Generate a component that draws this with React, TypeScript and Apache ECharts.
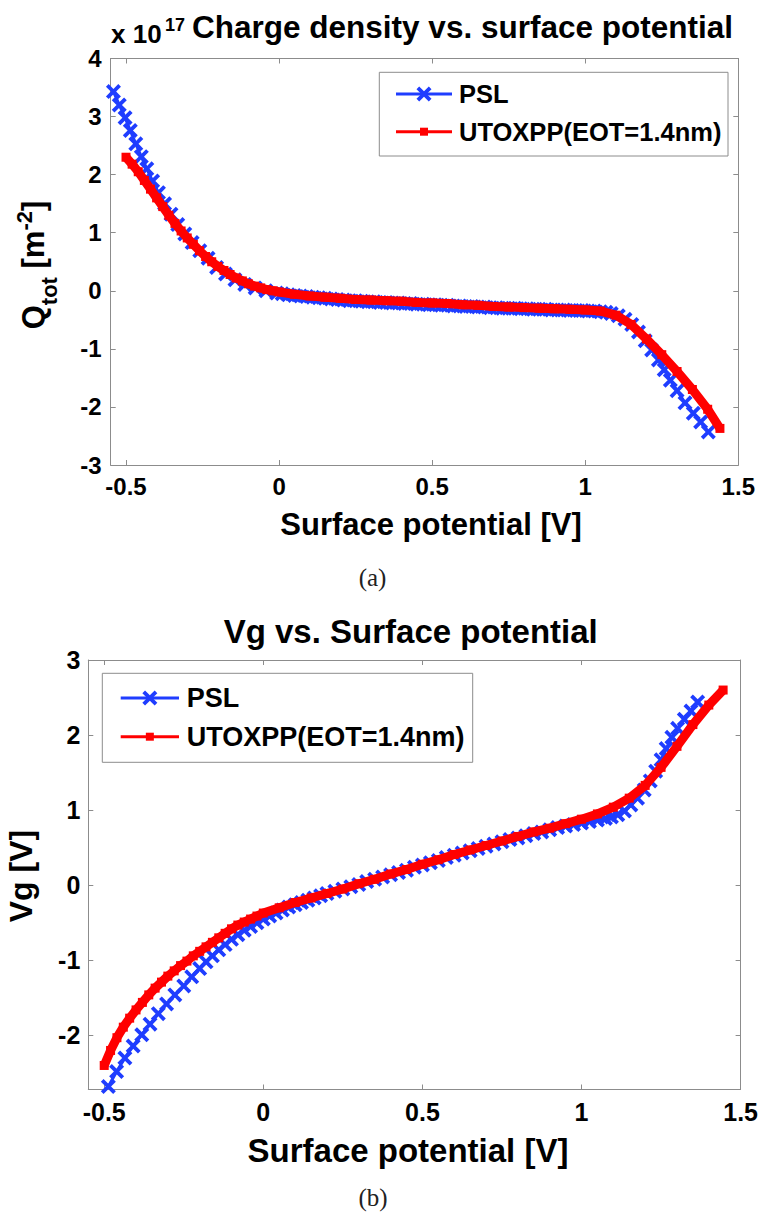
import React, { useEffect, useRef } from 'react';
import * as echarts from 'echarts';

// ---------- data ----------
const SERIES_NAMES = ['PSL', 'UTOXPP(EOT=1.4nm)'];
const X_TICKS = [-0.5, 0, 0.5, 1, 1.5];
const QA_Y_TICKS = [-3, -2, -1, 0, 1, 2, 3, 4];
const VG_Y_TICKS = [-2, -1, 0, 1, 2, 3];

// (a) charge density [1e17 m^-2] vs surface potential [V]
const qPslX = [-0.541, -0.522, -0.503, -0.486, -0.468, -0.45, -0.432, -0.413, -0.394, -0.374, -0.353, -0.331, -0.308, -0.284, -0.259, -0.232, -0.204, -0.175, -0.144, -0.112, -0.078, -0.043, -0.008, 0.01, 0.03, 0.05, 0.07, 0.09, 0.11, 0.13, 0.15, 0.17, 0.19, 0.21, 0.23, 0.25, 0.27, 0.29, 0.31, 0.33, 0.35, 0.37, 0.39, 0.41, 0.43, 0.45, 0.47, 0.49, 0.51, 0.53, 0.55, 0.57, 0.59, 0.61, 0.63, 0.65, 0.67, 0.69, 0.71, 0.73, 0.75, 0.77, 0.79, 0.81, 0.83, 0.85, 0.87, 0.89, 0.91, 0.93, 0.95, 0.97, 0.99, 1.01, 1.03, 1.05, 1.068, 1.085, 1.108, 1.13, 1.152, 1.174, 1.196, 1.217, 1.239, 1.258, 1.278, 1.3, 1.326, 1.353, 1.377, 1.402];
const qPslY = [3.43, 3.2, 2.98, 2.76, 2.53, 2.31, 2.1, 1.89, 1.69, 1.5, 1.32, 1.14, 0.98, 0.83, 0.69, 0.56, 0.4, 0.29, 0.19, 0.11, 0.05, 0.0, -0.04, -0.05, -0.07, -0.08, -0.09, -0.1, -0.11, -0.12, -0.13, -0.14, -0.15, -0.16, -0.17, -0.17, -0.18, -0.19, -0.19, -0.2, -0.2, -0.21, -0.21, -0.22, -0.22, -0.23, -0.23, -0.24, -0.24, -0.25, -0.25, -0.26, -0.26, -0.27, -0.27, -0.28, -0.28, -0.29, -0.29, -0.3, -0.3, -0.3, -0.31, -0.31, -0.32, -0.32, -0.32, -0.33, -0.33, -0.33, -0.34, -0.34, -0.34, -0.35, -0.35, -0.36, -0.37, -0.39, -0.43, -0.49, -0.58, -0.71, -0.86, -1.02, -1.19, -1.36, -1.54, -1.72, -1.93, -2.11, -2.26, -2.43];
const qUtoX = [-0.5, -0.48, -0.46, -0.44, -0.42, -0.4, -0.38, -0.36, -0.34, -0.32, -0.3, -0.28, -0.26, -0.24, -0.22, -0.2, -0.18, -0.16, -0.14, -0.12, -0.1, -0.08, -0.06, -0.04, -0.02, 0.0, 0.05, 0.1, 0.15, 0.2, 0.25, 0.3, 0.35, 0.4, 0.45, 0.5, 0.55, 0.6, 0.65, 0.7, 0.75, 0.8, 0.85, 0.9, 0.95, 1.0, 1.05, 1.1, 1.15, 1.2, 1.25, 1.3, 1.35, 1.4, 1.44];
const qUtoY = [2.3, 2.18, 2.05, 1.9, 1.75, 1.6, 1.45, 1.3, 1.16, 1.03, 0.91, 0.8, 0.69, 0.59, 0.5, 0.42, 0.35, 0.28, 0.22, 0.17, 0.12, 0.08, 0.05, 0.02, 0.0, -0.02, -0.06, -0.09, -0.11, -0.13, -0.15, -0.16, -0.17, -0.18, -0.2, -0.21, -0.22, -0.24, -0.25, -0.27, -0.28, -0.29, -0.3, -0.31, -0.32, -0.33, -0.35, -0.42, -0.58, -0.83, -1.1, -1.39, -1.7, -2.04, -2.37];

// (b) gate voltage [V] vs surface potential [V]
const vPslX = [-0.487, -0.461, -0.435, -0.409, -0.382, -0.356, -0.33, -0.304, -0.278, -0.25, -0.225, -0.2, -0.18, -0.16, -0.14, -0.12, -0.1, -0.08, -0.06, -0.04, -0.02, 0.0, 0.02, 0.04, 0.06, 0.08, 0.1, 0.12, 0.14, 0.16, 0.18, 0.2, 0.225, 0.25, 0.275, 0.3, 0.325, 0.35, 0.375, 0.4, 0.425, 0.45, 0.475, 0.5, 0.525, 0.55, 0.575, 0.6, 0.625, 0.65, 0.675, 0.7, 0.725, 0.75, 0.775, 0.8, 0.825, 0.85, 0.875, 0.9, 0.925, 0.95, 0.975, 1.0, 1.025, 1.05, 1.075, 1.094, 1.114, 1.135, 1.155, 1.176, 1.197, 1.216, 1.233, 1.25, 1.266, 1.284, 1.302, 1.323, 1.344, 1.365];
const vPslY = [-2.68, -2.48, -2.3, -2.14, -1.99, -1.85, -1.71, -1.58, -1.46, -1.34, -1.22, -1.11, -1.02, -0.94, -0.86, -0.79, -0.72, -0.66, -0.6, -0.55, -0.5, -0.45, -0.41, -0.37, -0.33, -0.29, -0.26, -0.23, -0.2, -0.17, -0.14, -0.11, -0.08, -0.05, -0.02, 0.01, 0.05, 0.08, 0.11, 0.14, 0.17, 0.2, 0.24, 0.27, 0.3, 0.33, 0.37, 0.4, 0.43, 0.46, 0.49, 0.52, 0.55, 0.58, 0.61, 0.63, 0.66, 0.69, 0.71, 0.74, 0.77, 0.79, 0.81, 0.83, 0.85, 0.87, 0.89, 0.91, 0.94, 0.99, 1.07, 1.16, 1.27, 1.39, 1.52, 1.67, 1.82, 1.97, 2.09, 2.21, 2.32, 2.44];
const vUtoX = [-0.5, -0.48, -0.46, -0.44, -0.42, -0.4, -0.38, -0.36, -0.34, -0.32, -0.3, -0.28, -0.26, -0.24, -0.22, -0.2, -0.18, -0.16, -0.14, -0.12, -0.1, -0.08, -0.06, -0.04, -0.02, 0.0, 0.05, 0.1, 0.15, 0.2, 0.25, 0.3, 0.35, 0.4, 0.45, 0.5, 0.55, 0.6, 0.65, 0.7, 0.75, 0.8, 0.85, 0.9, 0.95, 1.0, 1.05, 1.1, 1.15, 1.2, 1.25, 1.3, 1.35, 1.4, 1.445];
const vUtoY = [-2.4, -2.2, -2.03, -1.89, -1.77, -1.66, -1.56, -1.46, -1.37, -1.29, -1.21, -1.14, -1.07, -1.01, -0.94, -0.88, -0.82, -0.76, -0.7, -0.64, -0.58, -0.53, -0.49, -0.45, -0.41, -0.37, -0.3, -0.23, -0.17, -0.11, -0.05, 0.02, 0.08, 0.15, 0.21, 0.28, 0.34, 0.41, 0.47, 0.53, 0.59, 0.65, 0.71, 0.76, 0.82, 0.88, 0.95, 1.04, 1.16, 1.33, 1.57, 1.85, 2.14, 2.4, 2.6];

// ---------- style ----------
const FONT = "'Liberation Sans', Arial, Helvetica, sans-serif";
const SERIF = "'Liberation Serif', 'DejaVu Serif', serif";
const GRAY = '#8c8c8c';
const BLUE = '#1f3dff';
const RED = '#ff0000';
const CROSS_PTS = [[0, 18], [18, 0], [50, 32], [82, 0], [100, 18], [68, 50], [100, 82], [82, 100], [50, 68], [18, 100], [0, 82], [32, 50]];
const CROSS_PATH = 'path://M' + CROSS_PTS.map((p) => p.join(',')).join('L') + 'Z';

const zip = (xs: number[], ys: number[]) => xs.map((x, i) => [x, ys[i]]);

function axisPair(gridIndex: number, min: number, max: number, ticks: number[], fontSize: number, margin: number, isX: boolean) {
  const common: any = {
    type: 'value', gridIndex, min, max,
    splitLine: { show: false },
    axisLine: { show: true, onZero: false, lineStyle: { color: GRAY, width: 1 } },
    axisTick: { show: true, inside: true, length: 5, customValues: ticks, lineStyle: { color: GRAY, width: 1 } },
  };
  return [
    {
      ...common, position: isX ? 'bottom' : 'left',
      axisLabel: { show: true, customValues: ticks, formatter: (v: number) => String(v), fontSize, fontWeight: 'bold', fontFamily: FONT, color: '#000', margin },
    },
    { ...common, position: isX ? 'top' : 'right', axisLabel: { show: false } },
  ];
}

function txt(text: string, x: number, y: number, size: number, opts: any = {}) {
  return {
    type: 'text', x, y, z: 30, rotation: opts.rotation || 0,
    style: {
      text, fill: opts.fill || '#000', fontSize: size, fontWeight: opts.weight || 'bold',
      fontFamily: opts.family || FONT, align: opts.align || 'center', verticalAlign: 'middle',
    },
  };
}

function legend(bx: number, by: number, bw: number, bh: number, rows: number[], lx0: number, lx1: number, tx: number, fs: number) {
  const cx = (lx0 + lx1) / 2;
  const s = 15;
  return [
    { type: 'rect', z: 20, shape: { x: bx, y: by, width: bw, height: bh }, style: { fill: '#fff', stroke: GRAY, lineWidth: 1 } },
    { type: 'line', z: 21, shape: { x1: lx0, y1: rows[0], x2: lx1, y2: rows[0] }, style: { stroke: BLUE, lineWidth: 3 } },
    { type: 'polygon', z: 22, shape: { points: CROSS_PTS.map(([px, py]) => [cx - s / 2 + (px * s) / 100, rows[0] - s / 2 + (py * s) / 100]) }, style: { fill: BLUE } },
    txt(SERIES_NAMES[0], tx, rows[0], fs, { align: 'left' }),
    { type: 'line', z: 21, shape: { x1: lx0, y1: rows[1], x2: lx1, y2: rows[1] }, style: { stroke: RED, lineWidth: 3 } },
    { type: 'rect', z: 22, shape: { x: cx - 4, y: rows[1] - 4, width: 8, height: 8 }, style: { fill: RED } },
    txt(SERIES_NAMES[1], tx, rows[1], fs, { align: 'left' }),
  ];
}

export default function App() {
  const ref = useRef<HTMLDivElement>(null);
  useEffect(() => {
    if (!ref.current) return;
    const chart = echarts.init(ref.current, null, { renderer: 'svg', width: 761, height: 1216 });

    const canvas = document.createElement('canvas');
    const ctx = canvas.getContext('2d') as CanvasRenderingContext2D;
    const tw = (t: string, size: number) => {
      ctx.font = `bold ${size}px ${FONT}`;
      return ctx.measureText(t).width;
    };

    // rotated y label of (a): Q_tot [m^-2]
    const parts = [
      { t: 'Q', s: 31, dy: 0 },
      { t: 'tot', s: 22, dy: 13 },
      { t: ' [m', s: 31, dy: 0 },
      { t: '-2', s: 22, dy: -12 },
      { t: ']', s: 31, dy: 0 },
    ];
    const total = parts.reduce((a, p) => a + tw(p.t, p.s), 0);
    let cur = -total / 2;
    const qChildren = parts.map((p) => {
      const el = {
        type: 'text', x: cur, y: p.dy - 0.3465 * p.s,
        style: { text: p.t, fill: '#000', fontSize: p.s, fontWeight: 'bold', fontFamily: FONT, align: 'left', verticalAlign: 'middle' },
      };
      cur += tw(p.t, p.s);
      return el;
    });

    const xa = axisPair(0, -0.55, 1.5, X_TICKS, 24, 9, true);
    const xb = axisPair(1, -0.55, 1.5, X_TICKS, 25, 10, true);
    const ya = axisPair(0, -3, 4, QA_Y_TICKS, 24, 9, false);
    const yb = axisPair(1, -2.72, 3, VG_Y_TICKS, 25, 8, false);

    const pslStyle = (xi: number, yi: number, data: number[][]) => ({
      type: 'line', name: SERIES_NAMES[0], xAxisIndex: xi, yAxisIndex: yi, data,
      symbol: CROSS_PATH, symbolSize: 15, showAllSymbol: true, clip: false, z: 3,
      lineStyle: { color: BLUE, width: 3 }, itemStyle: { color: BLUE },
    });
    const utoStyle = (xi: number, yi: number, data: number[][]) => ({
      type: 'line', name: SERIES_NAMES[1], xAxisIndex: xi, yAxisIndex: yi, data,
      symbol: 'rect', symbolSize: 9, showAllSymbol: true, clip: false, z: 4,
      lineStyle: { color: RED, width: 9 }, itemStyle: { color: RED },
    });

    chart.setOption({
      animation: false,
      backgroundColor: '#fff',
      grid: [
        { left: 110.7, top: 58.5, width: 627.6, height: 406.5 },
        { left: 88.3, top: 660, width: 653, height: 429.5 },
      ],
      xAxis: [...xa, ...xb],
      yAxis: [...ya, ...yb],
      series: [
        pslStyle(0, 0, zip(qPslX, qPslY)),
        utoStyle(0, 0, zip(qUtoX, qUtoY)),
        pslStyle(2, 2, zip(vPslX, vPslY)),
        utoStyle(2, 2, zip(vUtoX, vUtoY)),
      ],
      graphic: [
        // (a)
        txt('Charge density vs. surface potential', 462.5, 26.8, 31.5),
        txt('x 10', 111, 34.3, 26, { align: 'left' }),
        txt('17', 165, 25.3, 18, { align: 'left' }),
        txt('Surface potential [V]', 431, 524.3, 31),
        { type: 'group', x: 44, y: 265, rotation: Math.PI / 2, children: qChildren },
        ...legend(379.3, 72.3, 348.7, 83.7, [94, 131.7], 396, 452, 459, 25.5),
        txt('(a)', 372.5, 577, 25, { weight: 'normal', family: SERIF, fill: '#222' }),
        // (b)
        txt('Vg vs. Surface potential', 410.7, 631.9, 33),
        txt('Surface potential [V]', 408, 1150.3, 33),
        txt('Vg [V]', 20.6, 876, 32, { rotation: Math.PI / 2 }),
        ...legend(102.3, 673.3, 370.4, 89, [698, 736.7], 120.7, 179, 186.7, 27),
        txt('(b)', 373, 1197, 25, { weight: 'normal', family: SERIF, fill: '#222' }),
      ],
    });
    return () => chart.dispose();
  }, []);
  return <div ref={ref} style={{ position: 'absolute', left: 0, top: 0, width: 761, height: 1216, background: '#fff' }} />;
}
